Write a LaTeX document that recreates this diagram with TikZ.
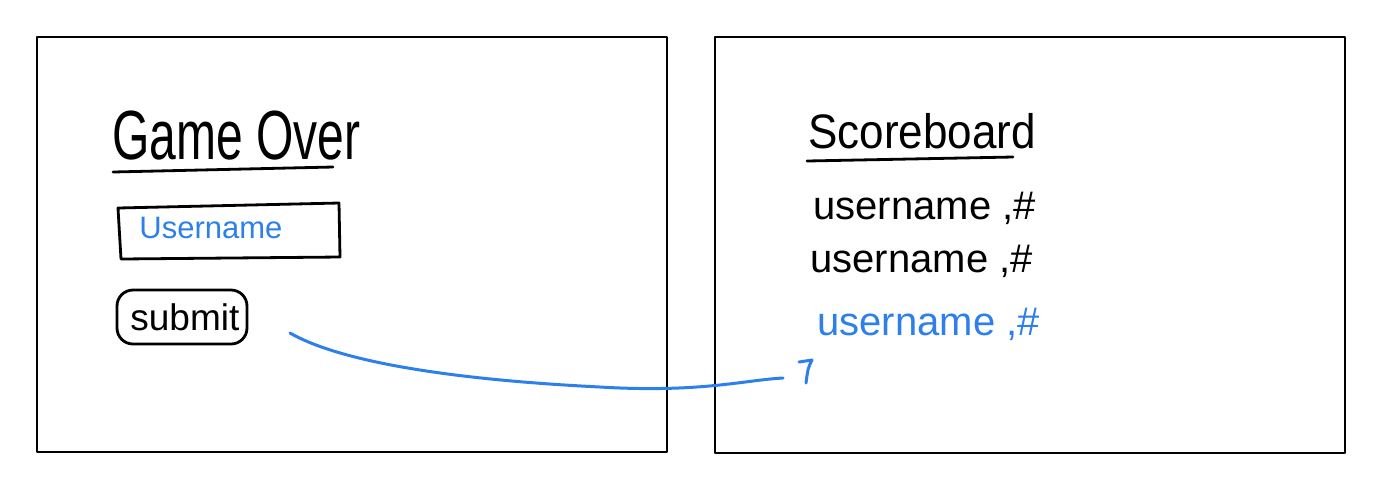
\documentclass[tikz,border=0pt]{standalone}
\usepackage{fontspec}
\setmainfont{Liberation Sans}
\definecolor{penblue}{RGB}{45,128,235}

\begin{document}
\begin{tikzpicture}[x=0.5pt, y=-0.5pt, line cap=round, line join=round]
            \useasboundingbox (0,0) rectangle (1384,484);

            % Screen frames
            \draw[line width=1pt] (37,37) rectangle (667,452);
            \draw[line width=1pt] (715,37) rectangle (1345,453);

            % Game over screen
            \node[anchor=base west, inner sep=0, font=\fontsize{24}{28}\selectfont] (gameover) at (112,159) {\scalebox{1}[1.45]{Game Over}};
            \draw[line width=1.4pt] (113,172) -- (333,167);
            \node[anchor=base west, inner sep=0, text=penblue, font=\fontsize{15.5}{18}\selectfont] (userfield) at (139,238) {Username};
            \draw[line width=1.4pt] (118,208) -- (339,203) -- (340,257) -- (121,259) -- cycle;
            \node[anchor=base west, inner sep=0, font=\fontsize{18.5}{22}\selectfont] (submit) at (130,330) {submit};
            \draw[line width=1.4pt, rounded corners=8pt] (117,290) rectangle (247,344);

            % Scoreboard screen
            \node[anchor=base west, inner sep=0, font=\fontsize{22}{26}\selectfont] (scoreboard) at (808,148) {\scalebox{1}[1.1]{Scoreboard}};
            \draw[line width=1.4pt] (807,161) -- (1013,157);
            \node[anchor=base west, inner sep=0, font=\fontsize{20}{24}\selectfont] (row1) at (813,219) {username ,\#};
            \node[anchor=base west, inner sep=0, font=\fontsize{20}{24}\selectfont] (row2) at (810,272) {username ,\#};
            \node[anchor=base west, inner sep=0, text=penblue, font=\fontsize{20}{24}\selectfont] (row3) at (817,335) {username ,\#};

            % Link from submit to new entry
            \coordinate (linkstart) at (290,333);
            \coordinate (linkmid) at (600,387);
            \coordinate (linkend) at (783,378);
            \draw[penblue, line width=1.5pt] (linkstart) .. controls (330,356) and (420,378) .. (linkmid)
                .. controls (700,393) and (745,380) .. (linkend);
            \draw[penblue, line width=1.5pt] (799,362) -- (812,360) .. controls (808,368) .. (806,383);
        \end{tikzpicture}
\end{document}
